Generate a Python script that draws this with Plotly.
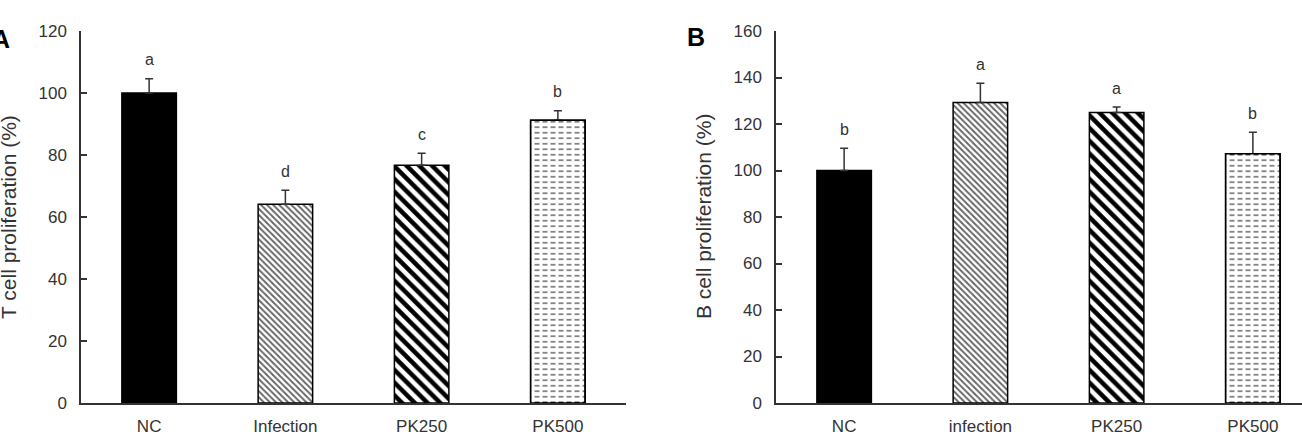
import plotly.graph_objects as go

# ---------------- data ----------------
cats_a = ["NC", "Infection", "PK250", "PK500"]
vals_a = [100.0, 64.1, 76.7, 91.2]
errs_a = [4.6, 4.5, 3.9, 3.1]
letters_a = ["a", "d", "c", "b"]

cats_b = ["NC", "infection", "PK250", "PK500"]
vals_b = [100.0, 129.3, 125.0, 107.2]
errs_b = [9.6, 8.2, 2.3, 9.3]
letters_b = ["b", "a", "a", "b"]

yticks_a = [0, 20, 40, 60, 80, 100, 120]
yticks_b = [0, 20, 40, 60, 80, 100, 120, 140, 160]

# ---------------- styles ----------------
W, H = 1302, 441
FONT = "Liberation Sans, Arial, sans-serif"
TXT = "#333333"
LINE = "#333333"

pat_shape = ["", "\\", "\\", "-"]
pat_size = [6, 4.3, 9, 5.5]
pat_solid = [0.3, 0.45, 0.5, 0.3]
pat_fg = ["black", "#666666", "black", "#777777"]
bar_color = ["black", "white", "white", "white"]

fig = go.Figure()


def add_panel(cats, vals, errs, letters, xa, ya):
    for i, (c, v, e) in enumerate(zip(cats, vals, errs)):
        pat = dict(shape=pat_shape[i], size=pat_size[i], solidity=pat_solid[i],
                   fgcolor=pat_fg[i], bgcolor=bar_color[i], fgopacity=1)
        fig.add_trace(go.Bar(
            x=[c], y=[v], xaxis=xa, yaxis=ya, width=0.4,
            marker=dict(color=bar_color[i], line=dict(color="black", width=1.5),
                        pattern=pat),
            error_y=dict(type="data", array=[e], arrayminus=[0], symmetric=False,
                         color=LINE, thickness=1.5, width=4),
            showlegend=False, hoverinfo="skip"))
    # white vertical breaks to turn horizontal lines of the last bar into dashes
    fig.add_trace(go.Bar(
        x=[cats[3]], y=[vals[3]], xaxis=xa, yaxis=ya, width=0.4,
        marker=dict(color="rgba(0,0,0,0)", line=dict(color="black", width=1.5),
                    pattern=dict(shape="|", size=8, solidity=0.38, fgcolor="white",
                                 bgcolor="rgba(0,0,0,0)", fgopacity=1)),
        showlegend=False, hoverinfo="skip"))
    for c, v, e, t in zip(cats, vals, errs, letters):
        fig.add_annotation(x=c, y=v + e, xref=xa, yref=ya, text=t, showarrow=False,
                           yanchor="middle", yshift=19,
                           font=dict(family=FONT, size=16, color=TXT))


add_panel(cats_a, vals_a, errs_a, letters_a, "x", "y")
add_panel(cats_b, vals_b, errs_b, letters_b, "x2", "y2")

x0a, x1a = 81, 626
x0b = 776
span = (x1a - x0a) / 4.0
x1b_cut = (W - x0b) / span - 0.5

common_x = dict(showline=True, linecolor=LINE, linewidth=1.5, ticks="", showgrid=False,
                zeroline=False, tickfont=dict(family=FONT, size=17, color=TXT),
                ticklabelstandoff=7)
common_y = dict(showline=True, linecolor=LINE, linewidth=1.5, ticks="inside", ticklen=6,
                tickcolor=LINE, tickwidth=1.5, showgrid=False, zeroline=False,
                tickfont=dict(family=FONT, size=17, color=TXT), ticklabelstandoff=9)

fig.update_layout(
    width=W, height=H,
    margin=dict(l=0, r=0, t=31, b=38),
    plot_bgcolor="white", paper_bgcolor="white",
    barmode="overlay",
    xaxis=dict(domain=[x0a / W, x1a / W], range=[-0.5, 3.5], **common_x),
    yaxis=dict(domain=[0, 1], range=[0, 120], tickvals=yticks_a, anchor="x", **common_y),
    xaxis2=dict(domain=[x0b / W, 1], range=[-0.5, x1b_cut], anchor="y2", **common_x),
    yaxis2=dict(domain=[0, 1], range=[0, 160], tickvals=yticks_b, anchor="x2", **common_y),
)

# y-axis titles
fig.add_annotation(text="T cell proliferation (%)", xref="paper", yref="paper",
                   x=8 / W, y=0.5, textangle=-90, showarrow=False, xanchor="center",
                   yanchor="middle", font=dict(family=FONT, size=21, color=TXT))
fig.add_annotation(text="B cell proliferation (%)", xref="paper", yref="paper",
                   x=703 / W, y=0.5, textangle=-90, showarrow=False, xanchor="center",
                   yanchor="middle", font=dict(family=FONT, size=21, color=TXT))

# panel labels
fig.add_annotation(text="<b>A</b>", xref="paper", yref="paper", x=12 / W, y=1 - (39 - 31) / (H - 69),
                   xanchor="right", yanchor="middle", showarrow=False,
                   font=dict(family=FONT, size=25, color="black"))
fig.add_annotation(text="<b>B</b>", xref="paper", yref="paper", x=685 / W, y=1 - (37 - 31) / (H - 69),
                   xanchor="left", yanchor="middle", showarrow=False,
                   font=dict(family=FONT, size=25, color="black"))

fig.write_html("out.html")
